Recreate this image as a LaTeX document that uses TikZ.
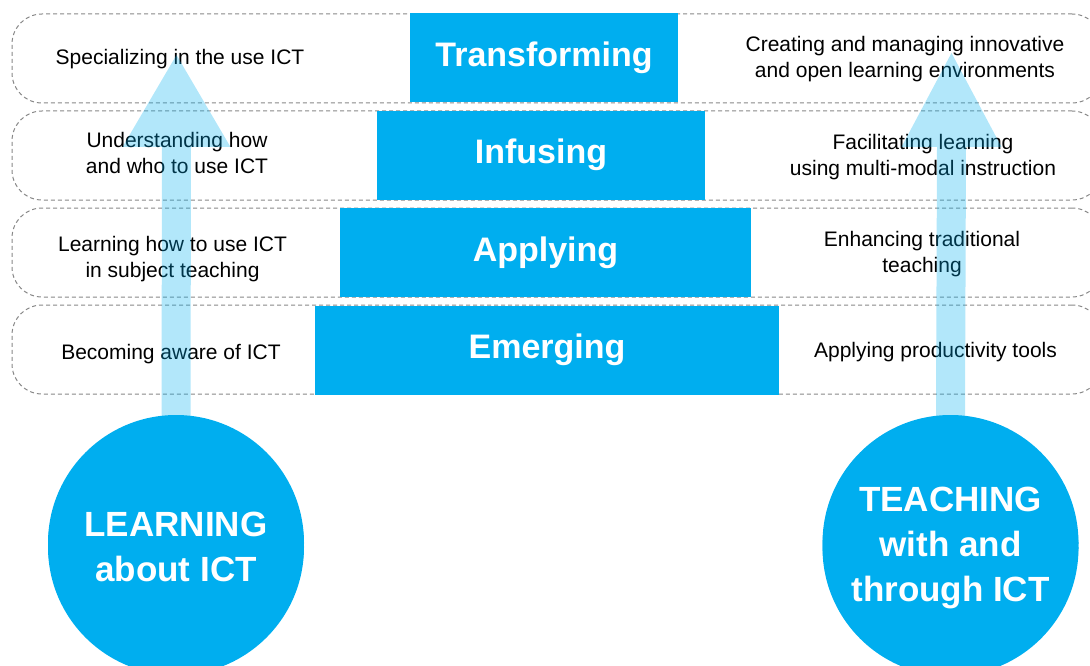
\documentclass[tikz,border=0pt]{standalone}
\usepackage{fontspec}
\setmainfont{Liberation Sans}
\usepackage{tikz}
\usetikzlibrary{positioning,calc}
\definecolor{ictblue}{RGB}{0,174,239}
\definecolor{rowgray}{RGB}{135,135,135}
\tikzstyle{row} = [rectangle, draw=rowgray, line width=1pt, dash pattern=on 4pt off 3pt,
    rounded corners=30pt, minimum width=1090pt, minimum height=89pt, inner sep=0pt]
\tikzstyle{stage} = [rectangle, fill=ictblue, text=white, minimum height=89pt, inner sep=0pt,
    font=\fontsize{34}{40}\selectfont\bfseries]
\tikzstyle{side} = [align=center, font=\fontsize{21}{25.5}\selectfont]
\tikzstyle{hub} = [circle, fill=ictblue, text=white, align=center, minimum size=256pt,
    inner sep=0pt, font=\fontsize{35}{45}\selectfont\bfseries]
\tikzstyle{lift} = [fill=ictblue, fill opacity=0.3]

\begin{document}
\begin{tikzpicture}[x=1pt, y=-1pt]
    \useasboundingbox (0,0) rectangle (1090,666);
    % Dashed rows
    \node [row] (row4) at (557,58.5) {};
    \node [row] (row3) at (557,155.5) {};
    \node [row] (row2) at (557,252.5) {};
    \node [row] (row1) at (557,349.5) {};
    % Stages of the pyramid
    \node [stage, minimum width=464pt] (emerging) at (547,350) {Emerging};
    \node [stage, minimum width=411pt, above=8pt of emerging, xshift=-1.5pt] (applying) {Applying};
    \node [stage, minimum width=328pt, above=8pt of applying, xshift=-4.5pt] (infusing) {Infusing};
    \node [stage, minimum width=268pt, above=8pt of infusing, xshift=3pt] (transforming) {Transforming};
    % Left column
    \node [side] (special) at (180,59) {Specializing in the use ICT};
    \node [side] (understand) at (177,153) {Understanding how\\and who to use ICT};
    \node [side] (learnhow) at (172.5,259) {Learning how to use ICT\\in subject teaching};
    \node [side] (aware) at (171,354) {Becoming aware of ICT};
    % Right column
    \node [side] (creating) at (905,59) {Creating and managing innovative\\and open learning environments};
    \node [side] (facilitate) at (923,157) {Facilitating learning\\using multi-modal instruction};
    \node [side] (enhance) at (922,254) {Enhancing traditional\\teaching};
    \node [side] (tools) at (935.5,352) {Applying productivity tools};
    % Circles
    \node [hub] (learn) at (176,543) {};
    \node [hub] (teach) at (950.5,543) {};
    \coordinate (learntip) at (176.5,55);
    \coordinate (teachtip) at (951.5,53);
    % Arrows
    \fill [lift] ($(learn.north)+(-14.5,6)$) -- ($(learntip)+(-14.5,92)$) -- ($(learntip)+(-54,92)$)
        -- (learntip) -- ($(learntip)+(54,92)$) -- ($(learntip)+(14.5,92)$) -- ($(learn.north)+(14.5,6)$) -- cycle;
    \fill [lift] ($(teach.north)+(-14.5,6)$) -- ($(teachtip)+(-14.5,94)$) -- ($(teachtip)+(-50,94)$)
        -- (teachtip) -- ($(teachtip)+(50,94)$) -- ($(teachtip)+(14.5,94)$) -- ($(teach.north)+(14.5,6)$) -- cycle;
    \node [hub, yshift=-4pt] at (learn) {LEARNING\\about ICT};
    \node [hub, yshift=-5pt] at (teach) {TEACHING\\with and\\through ICT};
\end{tikzpicture}
\end{document}
